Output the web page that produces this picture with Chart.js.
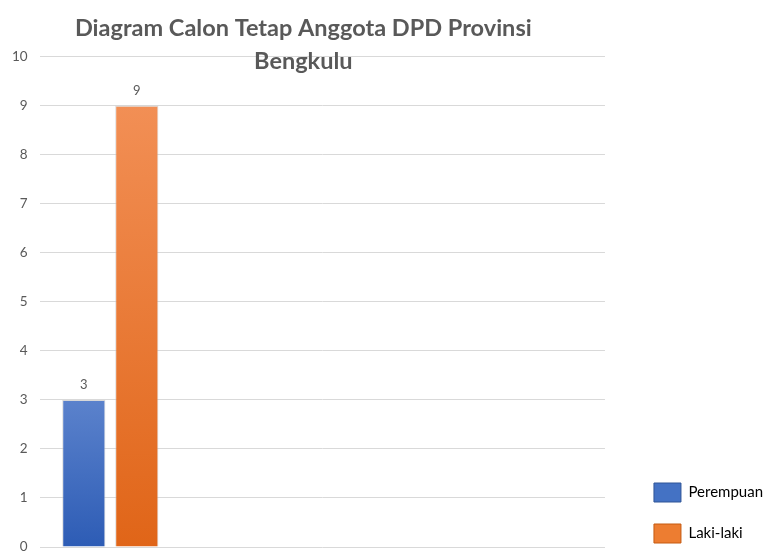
<!DOCTYPE html>
<html>
<head>
<title>Diagram Calon Tetap Anggota DPD Provinsi Bengkulu</title>
<script src="https://cdn.jsdelivr.net/npm/chart.js"></script>
<style>
  html, body { margin: 0; padding: 0; background: #fff; overflow: hidden; }
  #wrap { width: 769px; height: 600px; }
</style>
</head>
<body>
<div id="wrap"><canvas id="chart"></canvas></div>
<script>
  // data
  const categories = ['Calon Tetap', '', '', ''];
  const perempuan = [3];
  const lakiLaki = [9];
  const seriesNames = ['Perempuan', 'Laki-laki'];
  const yTicks = [0, 1, 2, 3, 4, 5, 6, 7, 8, 9, 10];

  const FONT = "Lato, 'Liberation Sans', sans-serif";

  // vertical gradient for each bar, light on top, darker at the base
  function barGradient(top, bottom) {
    return (ctx) => {
      const chart = ctx.chart;
      if (!chart.chartArea || ctx.raw == null) return bottom;
      const y = chart.scales.y;
      const g = chart.ctx.createLinearGradient(0, y.getPixelForValue(ctx.raw), 0, y.getPixelForValue(0));
      g.addColorStop(0, top);
      g.addColorStop(1, bottom);
      return g;
    };
  }

  // value labels above the bars
  const valueLabels = {
    id: 'valueLabels',
    afterDatasetsDraw(chart) {
      const c = chart.ctx;
      c.save();
      c.font = '13px ' + FONT;
      c.fillStyle = '#595959';
      c.textAlign = 'center';
      c.textBaseline = 'bottom';
      chart.data.datasets.forEach((ds, i) => {
        chart.getDatasetMeta(i).data.forEach((bar, j) => {
          if (ds.data[j] == null) return;
          c.fillText(ds.data[j], bar.x, bar.y - 9);
        });
      });
      c.restore();
    }
  };

  // title sits a little left of the plot centre, legend hangs low and
  // stands off from the plot
  const nudge = {
    id: 'nudge',
    afterLayout(chart) {
      const t = chart.titleBlock;
      t.left -= 19;
      t.right -= 19;
      const l = chart.legend;
      l.top += 18;
      l.bottom += 18;
      l.left += 27;
      l.right += 27;
    }
  };

  new Chart(document.getElementById('chart'), {
    type: 'bar',
    data: {
      labels: categories,
      datasets: [
        {
          label: seriesNames[0],
          data: perempuan,
          backgroundColor: barGradient('#5b82cc', '#2d5cb5'),
          borderColor: 'rgba(190,190,190,0.6)',
          borderWidth: 1
        },
        {
          label: seriesNames[1],
          data: lakiLaki,
          backgroundColor: barGradient('#f28f55', '#e06518'),
          borderColor: 'rgba(190,190,190,0.6)',
          borderWidth: 1
        }
      ]
    },
    options: {
      responsive: true,
      maintainAspectRatio: false,
      animation: false,
      layout: { padding: { left: 0, right: 23, top: 0, bottom: 53 } },
      categoryPercentage: 0.75,
      barPercentage: 0.815,
      plugins: {
        title: {
          display: true,
          fullSize: false,
          text: ['Diagram Calon Tetap Anggota DPD Provinsi', 'Bengkulu'],
          color: '#595959',
          font: { family: FONT, size: 23.5, weight: 'bold', lineHeight: 1.4 },
          padding: { top: 12, bottom: -21 }
        },
        legend: {
          position: 'right',
          align: 'end',
          labels: {
            boxWidth: 27,
            boxHeight: 19,
            padding: 22,
            color: '#404040',
            font: { family: FONT, size: 15 },
            generateLabels(chart) {
              const fills = ['#4472c4', '#ed7d31'];
              const edges = ['#2f5597', '#c55a11'];
              return chart.data.datasets.map((ds, i) => ({
                text: ds.label,
                fillStyle: fills[i],
                strokeStyle: edges[i],
                lineWidth: 1,
                datasetIndex: i,
                hidden: false
              }));
            }
          }
        },
        tooltip: { enabled: false }
      },
      scales: {
        x: { display: false },
        y: {
          min: 0,
          max: 10,
          afterBuildTicks(scale) { scale.ticks = yTicks.map(v => ({ value: v })); },
          border: { display: false },
          grid: { color: '#d9d9d9', drawTicks: false },
          ticks: { color: '#595959', padding: 12, font: { family: FONT, size: 13.5 } }
        }
      }
    },
    plugins: [valueLabels, nudge]
  });
</script>
</body>
</html>
